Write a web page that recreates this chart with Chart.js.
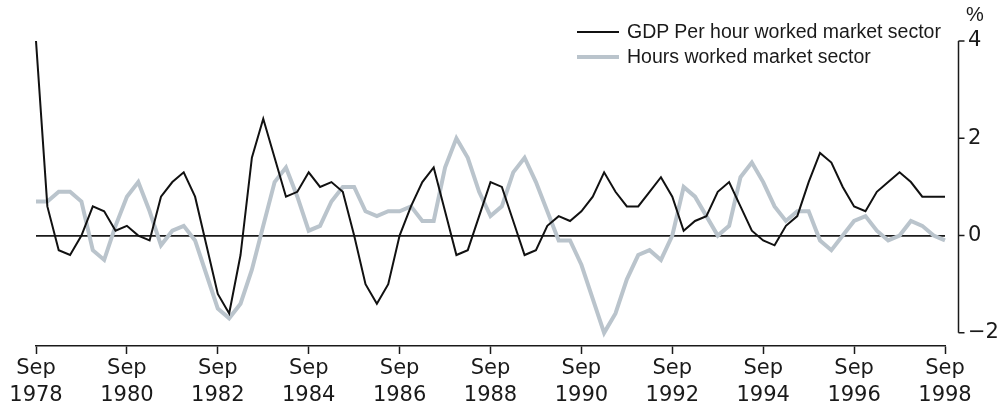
<!DOCTYPE html>
<html>
<head>
<meta charset="utf-8">
<script src="https://cdn.jsdelivr.net/npm/chart.js@4/dist/chart.umd.min.js"></script>
<style>
  body { margin: 0; background: #fff; }
  #wrap { position: relative; width: 1002px; height: 410px; }
  #legend { position: absolute; left: 577px; top: 19px; font: 19.5px "Liberation Sans", Arial, sans-serif; color: #1a1a1a; }
  .item { display: flex; align-items: center; height: 25px; }
  .swatch { width: 42px; margin-right: 8px; }
  #unit { position: absolute; left: 966px; top: 3px; font: 20px "Liberation Sans", Arial, sans-serif; color: #1a1a1a; }
</style>
</head>
<body>
<div id="wrap">
  <canvas id="chart"></canvas>
  <div id="legend"></div>
  <div id="unit">%</div>
</div>
<script>
// quarterly growth, Sep 1978 - Sep 1998
const gdpPerHour = [
  4.0, 0.6, -0.3, -0.4, 0.0, 0.6, 0.5, 0.1, 0.2, 0.0,
  -0.1, 0.8, 1.1, 1.3, 0.8, -0.2, -1.2, -1.6, -0.4, 1.6,
  2.4, 1.6, 0.8, 0.9, 1.3, 1.0, 1.1, 0.9, 0.0, -1.0,
  -1.4, -1.0, 0.0, 0.6, 1.1, 1.4, 0.5, -0.4, -0.3, 0.4,
  1.1, 1.0, 0.3, -0.4, -0.3, 0.2, 0.4, 0.3, 0.5, 0.8,
  1.3, 0.9, 0.6, 0.6, 0.9, 1.2, 0.8, 0.1, 0.3, 0.4,
  0.9, 1.1, 0.6, 0.1, -0.1, -0.2, 0.2, 0.4, 1.1, 1.7,
  1.5, 1.0, 0.6, 0.5, 0.9, 1.1, 1.3, 1.1, 0.8, 0.8,
  0.8
];
const hoursWorked = [
  0.7, 0.7, 0.9, 0.9, 0.7, -0.3, -0.5, 0.2, 0.8, 1.1,
  0.5, -0.2, 0.1, 0.2, -0.1, -0.8, -1.5, -1.7, -1.4, -0.7,
  0.2, 1.1, 1.4, 0.8, 0.1, 0.2, 0.7, 1.0, 1.0, 0.5,
  0.4, 0.5, 0.5, 0.6, 0.3, 0.3, 1.4, 2.0, 1.6, 0.9,
  0.4, 0.6, 1.3, 1.6, 1.1, 0.5, -0.1, -0.1, -0.6, -1.3,
  -2.0, -1.6, -0.9, -0.4, -0.3, -0.5, 0.0, 1.0, 0.8, 0.4,
  0.0, 0.2, 1.2, 1.5, 1.1, 0.6, 0.3, 0.5, 0.5, -0.1,
  -0.3, 0.0, 0.3, 0.4, 0.1, -0.1, 0.0, 0.3, 0.2, 0.0,
  -0.1
];
const tickYears = ["1978", "1980", "1982", "1984", "1986", "1988", "1990", "1992", "1994", "1996", "1998"];
const yTicks = [-2, 0, 2, 4];

const months = ["Sep", "Dec", "Mar", "Jun"];
const quarters = gdpPerHour.map((_, i) => {
  const year = 1978 + Math.floor((i + 3) / 4);
  return months[i % 4] + " " + year;
});

const tickFont = { family: "DejaVu Sans", size: 21, lineHeight: 1.24 };

// right-hand axis sits a little away from the plot, so draw it by hand
const yAxisLine = {
  id: "yAxisLine",
  afterDraw(chart) {
    const { ctx, chartArea, scales } = chart;
    const x = chartArea.right + 13.5;
    const top = scales.y.getPixelForValue(yTicks[yTicks.length - 1]);
    const bottom = scales.y.getPixelForValue(yTicks[0]);
    ctx.save();
    ctx.strokeStyle = "#1a1a1a";
    ctx.lineWidth = 1.5;
    ctx.beginPath();
    ctx.moveTo(x, top);
    ctx.lineTo(x, bottom);
    yTicks.forEach((v) => {
      const y = scales.y.getPixelForValue(v);
      ctx.moveTo(x, y);
      ctx.lineTo(x + 6, y);
    });
    ctx.stroke();
    ctx.restore();
  },
};

const chart = new Chart(document.getElementById("chart"), {
  type: "line",
  data: {
    labels: quarters,
    datasets: [
      {
        label: "GDP Per hour worked market sector",
        data: gdpPerHour,
        borderColor: "#111",
        borderWidth: 2,
        pointRadius: 0,
        tension: 0,
      },
      {
        label: "Hours worked market sector",
        data: hoursWorked,
        borderColor: "#bac4cc",
        borderWidth: 4,
        pointRadius: 0,
        tension: 0,
      },
    ],
  },
  options: {
    responsive: true,
    maintainAspectRatio: false,
    animation: false,
    layout: { padding: { left: 36, top: 41, right: 0, bottom: 0 } },
    plugins: {
      legend: { display: false },
      tooltip: { enabled: false },
    },
    scales: {
      x: {
        type: "category",
        afterBuildTicks: (s) => {
          s.ticks = s.ticks.filter((t) => t.value % 8 === 0);
        },
        afterFit: (s) => {
          s.height = 64;
        },
        ticks: {
          autoSkip: false,
          maxRotation: 0,
          padding: 2,
          color: "#1a1a1a",
          font: tickFont,
          callback: (value, i) => ["Sep", tickYears[i]],
        },
        grid: {
          drawOnChartArea: false,
          drawTicks: true,
          tickLength: 8,
          tickWidth: 1.5,
          tickColor: "#1a1a1a",
        },
        border: { color: "#1a1a1a", width: 1.5 },
      },
      y: {
        position: "right",
        min: -2.27,
        max: 4,
        afterBuildTicks: (s) => {
          s.ticks = yTicks.map((v) => ({ value: v }));
        },
        afterFit: (s) => {
          s.width = 57;
        },
        ticks: {
          padding: 23,
          color: "#1a1a1a",
          font: tickFont,
          callback: (v) => (v < 0 ? "\u2212" + Math.abs(v) : String(v)),
        },
        grid: {
          drawTicks: false,
          lineWidth: 1.8,
          color: (c) => (c.tick && c.tick.value === 0 ? "#1a1a1a" : "rgba(0,0,0,0)"),
        },
        border: { display: false },
      },
    },
  },
  plugins: [yAxisLine],
});

// legend, stacked, top right inside the plot
const legend = document.getElementById("legend");
chart.data.datasets.forEach((ds) => {
  const item = document.createElement("div");
  item.className = "item";
  const sw = document.createElement("div");
  sw.className = "swatch";
  sw.style.borderTop = ds.borderWidth + "px solid " + ds.borderColor;
  const txt = document.createElement("span");
  txt.textContent = ds.label;
  item.appendChild(sw);
  item.appendChild(txt);
  legend.appendChild(item);
});
</script>
</body>
</html>
